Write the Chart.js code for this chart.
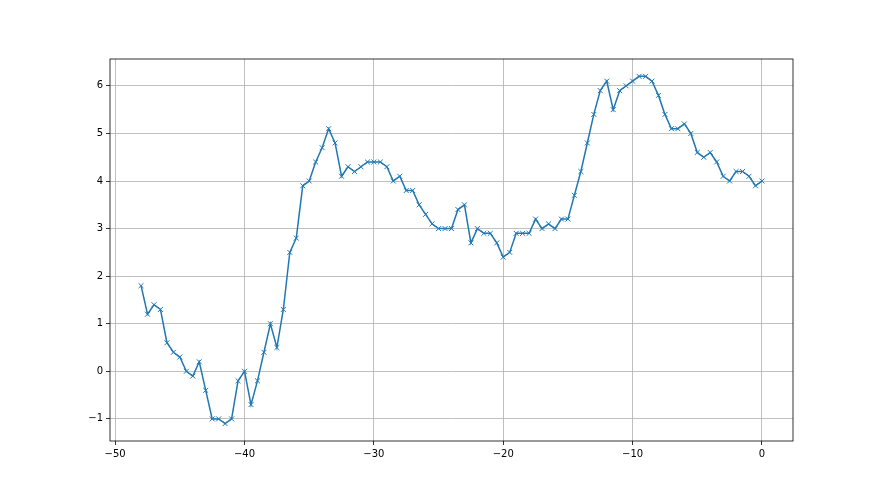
<!DOCTYPE html>
<html>
<head>
<meta charset="UTF-8">
<script src="https://cdn.jsdelivr.net/npm/chart.js"></script>
<style>
  html, body { margin: 0; padding: 0; background: #fff; }
  #wrap { width: 880px; height: 495px; }
</style>
</head>
<body>
<div id="wrap"><canvas id="grafico"></canvas></div>
<script>
// valores
const xValores = [];
for (let i = 0; i <= 96; i++) xValores.push(-48 + i * 0.5);

const yValores = [
  1.8, 1.2, 1.4, 1.3, 0.6, 0.4, 0.3, 0.0, -0.1, 0.2,
  -0.4, -1.0, -1.0, -1.1, -1.0, -0.2, 0.0, -0.7, -0.2, 0.4,
  1.0, 0.5, 1.3, 2.5, 2.8, 3.9, 4.0, 4.4, 4.7, 5.1,
  4.8, 4.1, 4.3, 4.2, 4.3, 4.4, 4.4, 4.4, 4.3, 4.0,
  4.1, 3.8, 3.8, 3.5, 3.3, 3.1, 3.0, 3.0, 3.0, 3.4,
  3.5, 2.7, 3.0, 2.9, 2.9, 2.7, 2.4, 2.5, 2.9, 2.9,
  2.9, 3.2, 3.0, 3.1, 3.0, 3.2, 3.2, 3.7, 4.2, 4.8,
  5.4, 5.9, 6.1, 5.5, 5.9, 6.0, 6.1, 6.2, 6.2, 6.1,
  5.8, 5.4, 5.1, 5.1, 5.2, 5.0, 4.6, 4.5, 4.6, 4.4,
  4.1, 4.0, 4.2, 4.2, 4.1, 3.9, 4.0
];

const xTicks = [-50, -40, -30, -20, -10, 0];
const yTicks = [-1, 0, 1, 2, 3, 4, 5, 6];

const pontos = xValores.map((x, i) => ({ x: x, y: yValores[i] }));

// moldura dos eixos (spines)
const moldura = {
  id: 'moldura',
  afterDraw(chart) {
    const a = chart.chartArea;
    const ctx = chart.ctx;
    ctx.save();
    ctx.strokeStyle = '#000';
    ctx.lineWidth = 0.8;
    ctx.strokeRect(a.left, a.top, a.right - a.left, a.bottom - a.top);
    ctx.restore();
  }
};

const config = {
  type: 'line',
  data: {
    datasets: [{
      data: pontos,
      borderColor: '#1f77b4',
      backgroundColor: '#1f77b4',
      borderWidth: 1.5,
      pointStyle: 'crossRot',
      pointRadius: 3.5,
      pointBorderWidth: 1,
      pointBorderColor: '#1f77b4',
      tension: 0,
      fill: false
    }]
  },
  options: {
    responsive: true,
    maintainAspectRatio: false,
    animation: false,
    layout: { padding: { top: 59, right: 87, bottom: 0, left: 0 } },
    plugins: { legend: { display: false }, tooltip: { enabled: false } },
    scales: {
      x: {
        type: 'linear',
        min: -50.4,
        max: 2.4,
        afterBuildTicks(axis) { axis.ticks = xTicks.map(v => ({ value: v })); },
        afterFit(axis) { axis.height = 54; },
        grid: { color: '#b0b0b0', lineWidth: 0.8, tickColor: '#000', tickLength: 4 },
        border: { display: false },
        ticks: {
          color: '#000',
          font: { family: 'DejaVu Sans', size: 10 },
          maxRotation: 0,
          padding: 3,
          callback: v => String(v).replace('-', '\u2212')
        }
      },
      y: {
        type: 'linear',
        min: -1.465,
        max: 6.565,
        afterBuildTicks(axis) { axis.ticks = yTicks.map(v => ({ value: v })); },
        afterFit(axis) { axis.width = 110; },
        grid: { color: '#b0b0b0', lineWidth: 0.8, tickColor: '#000', tickLength: 4 },
        border: { display: false },
        ticks: {
          color: '#000',
          font: { family: 'DejaVu Sans', size: 10 },
          padding: 3,
          callback: v => String(v).replace('-', '\u2212')
        }
      }
    }
  },
  plugins: [moldura]
};

let myChart = new Chart(document.getElementById('grafico'), config);
</script>
</body>
</html>
